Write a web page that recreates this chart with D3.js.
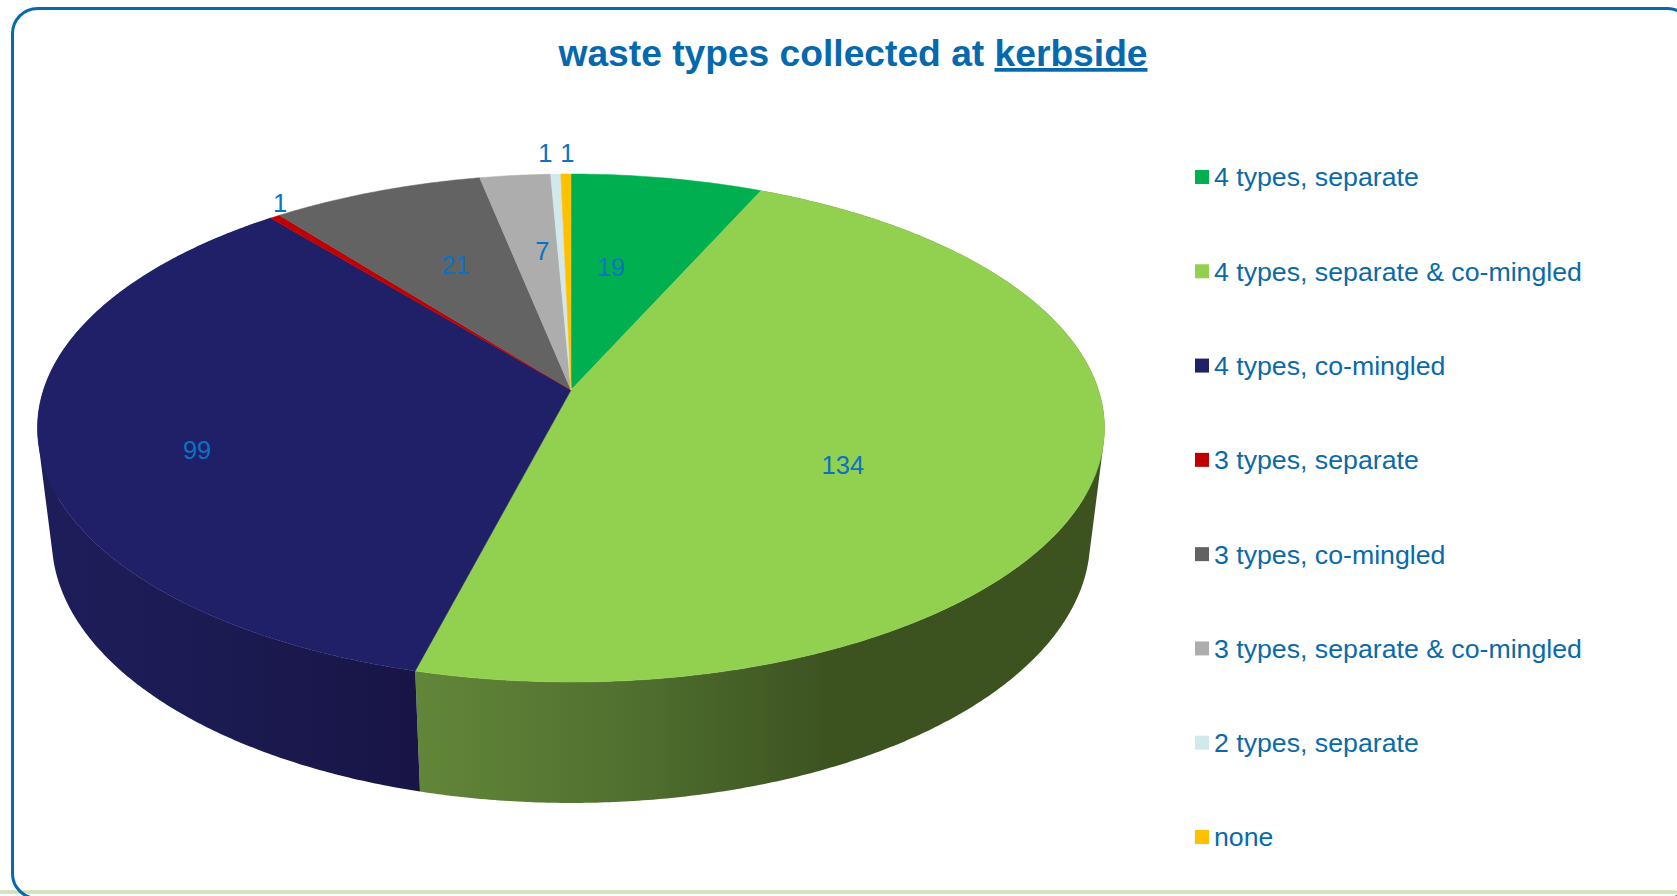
<!DOCTYPE html>
<html>
<head>
<meta charset="utf-8">
<script src="https://d3js.org/d3.v7.min.js"></script>
<style>
  html, body { margin: 0; padding: 0; background: #fff; overflow: hidden; }
  text { font-family: "Liberation Sans", Arial, sans-serif; }
</style>
</head>
<body>
<svg class="chart"></svg>
<script>
// values
var categories = ['4 types, separate', '4 types, separate & co-mingled', '4 types, co-mingled',
    '3 types, separate', '3 types, co-mingled', '3 types, separate & co-mingled',
    '2 types, separate', 'none'];
var values = [19, 134, 99, 1, 21, 7, 1, 1];
var sliceColors = ['#00b050', '#92d050', '#1f2067', '#c00000', '#636363', '#adadad', '#d2e9ec', '#ffc000'];

function show() {
    'use strict';

    var width = 1677, height = 896;
    var chart = d3.select('.chart').attr('width', width).attr('height', height)
        .style('display', 'block');

    // the pie is in perspective, so the centre of the disc is not the centre of the ellipse
    var cx = 571, cy = 390,
        spreadX = 527.5, spreadY = 248.3,
        tilt = 0.1496,        // how much nearer points grow
        depth = 114,          // wall height
        depthShrink = 0.027;  // the bottom disc is further away

    function project(angle, r, z) {
        var u = r * Math.sin(angle),
            v = -r * Math.cos(angle),
            w = 1 - tilt * v + depthShrink * z;
        return [cx + spreadX * u / w, cy + (spreadY * v + depth * z) / w];
    }

    function arcPoints(d, r, z) {
        var steps = Math.max(2, Math.ceil((d.endAngle - d.startAngle) / 0.008));
        return d3.range(steps + 1).map(function (i) {
            return project(d.startAngle + (d.endAngle - d.startAngle) * i / steps, r, z);
        });
    }

    // one path made of small quads, so the outline also takes in the straight edge
    // between the top disc and the bottom disc at the far left and right
    function wallPath(d) {
        var top = arcPoints(d, 1, 0), bottom = arcPoints(d, 1, 1), path = '';
        d3.pairs(d3.range(top.length)).forEach(function (p) {
            var quad = [top[p[0]], top[p[1]], bottom[p[1]], bottom[p[0]]];
            if (d3.polygonArea(quad) < 0) quad.reverse();
            path += line(quad) + 'Z';
        });
        return path;
    }

    var slices = d3.pie().sort(null)(values);
    var line = d3.line();

    var defs = chart.append('defs');

    // sides of the two big slices fade sideways
    var walls = [
        { index: 1, from: 416, to: 830, stops: ['#628639', '#517130', '#3c5320'] },
        { index: 2, from: 416, to: 60, stops: ['#181446', '#1b1a50', '#1d1d5a'] }
    ];
    walls.forEach(function (w) {
        var grad = defs.append('linearGradient')
            .attr('id', 'wall' + w.index)
            .attr('gradientUnits', 'userSpaceOnUse')
            .attr('x1', w.from).attr('x2', w.to).attr('y1', 0).attr('y2', 0);
        w.stops.forEach(function (c, i) {
            grad.append('stop').attr('offset', i / (w.stops.length - 1)).attr('stop-color', c);
        });
    });

    // pale rule along the foot of the page, the frame runs over it
    chart.append('line')
        .attr('x1', 0).attr('x2', width).attr('y1', 892).attr('y2', 892)
        .attr('stroke', '#cfe2b8').attr('stroke-width', 3.5);

    chart.append('rect')
        .attr('x', 12.5).attr('y', 8.5).attr('width', 1680).attr('height', 890).attr('rx', 25)
        .attr('fill', 'none').attr('stroke', '#0668ad').attr('stroke-width', 3);

    // title
    var title = chart.append('text')
        .attr('x', 853).attr('y', 66)
        .attr('text-anchor', 'middle')
        .attr('font-size', 37.2).attr('font-weight', 'bold').attr('fill', '#0668ad');
    title.append('tspan').text('waste types collected at ');
    title.append('tspan').attr('text-decoration', 'underline').text('kerbside');

    // walls first, the top surface paints over everything behind it
    chart.selectAll('path.wall').data(walls)
        .enter().append('path')
        .attr('class', 'wall')
        .attr('fill', function (w) { return 'url(#wall' + w.index + ')'; })
        .attr('d', function (w) { return wallPath(slices[w.index]); });

    chart.selectAll('path.slice').data(slices)
        .enter().append('path')
        .attr('class', 'slice')
        .attr('fill', function (d, i) { return sliceColors[i]; })
        .attr('stroke', function (d, i) { return sliceColors[i]; })
        .attr('stroke-width', 0.5)
        .attr('d', function (d) {
            return line([project(0, 0, 0)].concat(arcPoints(d, 1, 0))) + 'Z';
        });

    // data labels: start from the middle of each slice, then the nudge the original has
    var labelNudge = [[-30, 31], [-89, 15], [-5, 22], [-77, -62], [26, 19], [12, 17], [-14.5, -80], [0, -80]];
    chart.selectAll('text.value').data(slices)
        .enter().append('text')
        .attr('class', 'value')
        .attr('text-anchor', 'middle')
        .attr('dy', '.35em')
        .attr('font-size', 25.5)
        .attr('fill', '#0a72c4')
        .attr('x', function (d, i) { return project((d.startAngle + d.endAngle) / 2, 0.7, 0)[0] + labelNudge[i][0]; })
        .attr('y', function (d, i) { return project((d.startAngle + d.endAngle) / 2, 0.7, 0)[1] + labelNudge[i][1]; })
        .text(function (d) { return d.data; });

    // legend
    var legendY = d3.scalePoint().domain(categories).range([177, 837]);
    var rows = chart.selectAll('g.legend').data(categories)
        .enter().append('g')
        .attr('class', 'legend')
        .attr('transform', function (d) { return 'translate(1195 ' + legendY(d) + ')'; });

    rows.append('rect')
        .attr('y', -7).attr('width', 14).attr('height', 14)
        .attr('fill', function (d, i) { return sliceColors[i]; });

    rows.append('text')
        .attr('x', 19).attr('dy', '.35em')
        .attr('font-size', 26.7).attr('fill', '#0a6aa9')
        .text(function (d) { return d; });
}

show();
</script>
</body>
</html>
